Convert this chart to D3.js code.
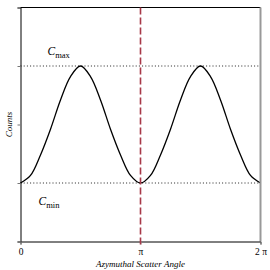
<!DOCTYPE html>
<html><head><meta charset="utf-8">
<script src="https://cdn.jsdelivr.net/npm/d3@7"></script>
<style>body{margin:0;background:#fff}svg{display:block}</style>
</head><body>
<script>
// data: angle in units of pi/12, counts (Cmin=1, Cmax=3)
const angleSteps = [0,1,2,3,4,5,6,7,8,9,10,11,12,13,14,15,16,17,18,19,20,21,22,23,24];
const counts = [1.0,1.13,1.48,1.92,2.42,2.82,3.0,2.82,2.42,1.92,1.48,1.13,1.0,1.13,1.48,1.92,2.42,2.82,3.0,2.82,2.42,1.92,1.48,1.13,1.0];
const xTickValues = [0, Math.PI, 2*Math.PI];
const xTickLabels = ["0", "π", "2 π"];
const yTickValues = [0,1,2,3,4];
const cMin = 1, cMax = 3;

const W = 270, H = 270;
const m = {l: 20.5, r: 9.5, t: 7.5, b: 28.5};
const svg = d3.select("body").append("svg").attr("width", W).attr("height", H);
const x = d3.scaleLinear().domain([0, 2*Math.PI]).range([m.l, W - m.r]);
const y = d3.scaleLinear().domain([0, 4]).range([H - m.b, m.t]);
const serif = "'Liberation Serif', 'DejaVu Serif', serif";

// reference lines
svg.selectAll("line.ref").data([cMin, cMax]).enter().append("line")
  .attr("x1", x(0)).attr("x2", x(2*Math.PI))
  .attr("y1", d => y(d)).attr("y2", d => y(d))
  .attr("stroke", "#222").attr("stroke-width", 1).attr("stroke-dasharray", "1,2.2");

// curve
const pts = angleSteps.map((k, i) => [k * Math.PI / 12, counts[i]]);
svg.append("path").datum(pts)
  .attr("d", d3.line().x(d => x(d[0])).y(d => y(d[1])).curve(d3.curveCatmullRom.alpha(0.5)))
  .attr("fill", "none").attr("stroke", "#000").attr("stroke-width", 1.3);

// frame
svg.append("line").attr("x1", x(0)).attr("x2", x(2*Math.PI)).attr("y1", y(4)).attr("y2", y(4)).attr("stroke", "#000").attr("stroke-width", 1);
svg.append("line").attr("x1", x(2*Math.PI)).attr("x2", x(2*Math.PI)).attr("y1", y(4)).attr("y2", y(0)).attr("stroke", "#999").attr("stroke-width", 2);

// axes
const yAxis = d3.axisLeft(y).tickValues(yTickValues).tickSize(3).tickFormat("");
const gy = svg.append("g").attr("transform", `translate(${x(0)},0)`).call(yAxis);
gy.select(".domain").attr("stroke", "#000");
gy.selectAll(".tick line").attr("stroke", "#777");

const xAxis = d3.axisBottom(x).tickValues(xTickValues).tickSize(3).tickPadding(4)
  .tickFormat((d, i) => xTickLabels[i]);
const gx = svg.append("g").attr("transform", `translate(0,${y(0)})`).call(xAxis);
gx.select(".domain").attr("stroke", "#000");
gx.selectAll(".tick line").attr("stroke", "#999");
gx.selectAll(".tick text").attr("font-family", serif).attr("font-size", 9.5).attr("fill", "#000");

// dashed vertical at pi
svg.append("line").attr("x1", x(Math.PI)).attr("x2", x(Math.PI)).attr("y1", y(4)).attr("y2", y(0) + 3)
  .attr("stroke", "#a83848").attr("stroke-width", 1.6).attr("stroke-dasharray", "7,3");

// labels
svg.append("text").attr("x", x(Math.PI)).attr("y", 266.5).attr("text-anchor", "middle")
  .attr("font-family", serif).attr("font-style", "italic").attr("font-size", 9).attr("fill", "#000").text("Azymuthal Scatter Angle");
svg.append("text").attr("transform", `translate(12,${y(2)}) rotate(-90)`).attr("text-anchor", "middle")
  .attr("font-family", serif).attr("font-style", "italic").attr("font-size", 9).attr("fill", "#000").text("Counts");

function cLabel(px, py, sub) {
  const t = svg.append("text").attr("x", px).attr("y", py).attr("font-family", serif).attr("font-size", 11.5).attr("fill", "#000");
  t.append("tspan").attr("font-style", "italic").text("C");
  t.append("tspan").attr("font-size", 8.5).attr("dy", 3).text(sub);
}
cLabel(47.5, 55, "max");
cLabel(38.5, 205, "min");
</script>
</body></html>
